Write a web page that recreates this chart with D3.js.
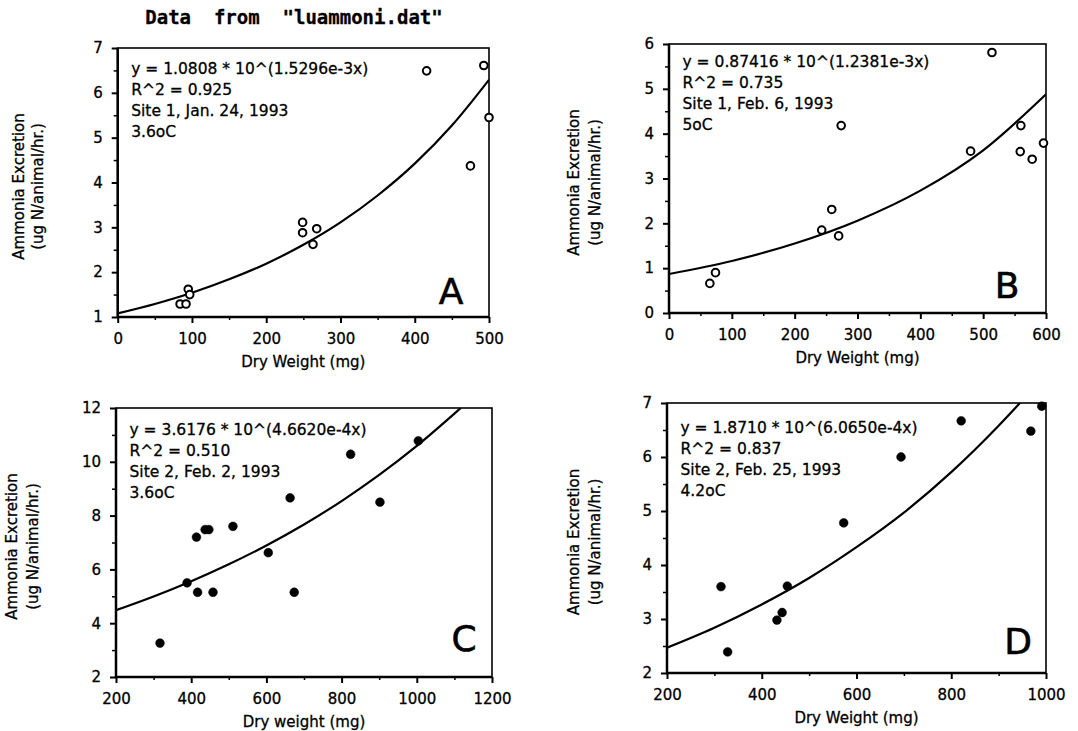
<!DOCTYPE html>
<html>
<head>
<meta charset="utf-8">
<script src="https://cdn.jsdelivr.net/npm/d3@7"></script>
<style>
  body { margin: 0; background: #fff; }
  svg { display: block; }
  text { font-family: "DejaVu Sans", Verdana, sans-serif; fill: #000; stroke: #000; stroke-width: 0.3px; }
</style>
</head>
<body>
<svg width="1078" height="731"></svg>
<script>
// ---- data ----
const weightA = [84, 92, 95, 97, 249, 249, 263, 268, 416, 475, 493, 500];
const excretionA = [1.29, 1.29, 1.62, 1.50, 3.11, 2.88, 2.62, 2.97, 6.49, 4.37, 6.61, 5.45];
const fitXA = [0, 50, 100, 150, 200, 250, 300, 350, 400, 450, 500];
const fitYA = [1.08, 1.29, 1.54, 1.84, 2.19, 2.61, 3.11, 3.71, 4.42, 5.27, 6.29];

const weightB = [65, 74, 243, 259, 270, 274, 480, 514, 559, 560, 578, 596];
const excretionB = [0.66, 0.90, 1.85, 2.31, 1.72, 4.18, 3.61, 5.81, 3.60, 4.18, 3.43, 3.79];
const fitXB = [0, 100, 200, 300, 400, 500, 600];
const fitYB = [0.87, 1.16, 1.55, 2.06, 2.73, 3.63, 4.88];

const weightC = [317, 389, 414, 417, 437, 447, 458, 511, 605, 663, 674, 824, 902, 1004];
const excretionC = [3.26, 5.50, 7.20, 5.15, 7.48, 7.48, 5.15, 7.60, 6.62, 8.66, 5.15, 10.28, 8.50, 10.78];
const fitXC = [200, 300, 400, 500, 600, 700, 800, 900, 1000, 1100, 1117];
const fitYC = [4.48, 4.99, 5.56, 6.19, 6.89, 7.67, 8.54, 9.51, 10.59, 11.79, 12.0];

const weightD = [314, 328, 432, 443, 454, 573, 694, 821, 968, 991];
const excretionD = [3.60, 2.39, 2.98, 3.12, 3.61, 4.78, 6.00, 6.67, 6.48, 6.94];
const fitXD = [200, 300, 400, 500, 600, 700, 800, 900, 945];
const fitYD = [2.47, 2.84, 3.27, 3.76, 4.33, 4.97, 5.72, 6.58, 7.0];

// annotation lines
const notesA = ["y = 1.0808 * 10^(1.5296e-3x)", "R^2 = 0.925", "Site 1, Jan. 24, 1993", "3.6oC"];
const notesB = ["y = 0.87416 * 10^(1.2381e-3x)", "R^2 = 0.735", "Site 1, Feb. 6, 1993", "5oC"];
const notesC = ["y = 3.6176 * 10^(4.6620e-4x)", "R^2 = 0.510", "Site 2, Feb. 2, 1993", "3.6oC"];
const notesD = ["y = 1.8710 * 10^(6.0650e-4x)", "R^2 = 0.837", "Site 2, Feb. 25, 1993", "4.2oC"];

// tick values
const xTicksA = [0, 100, 200, 300, 400, 500], xMinorA = [50, 150, 250, 350, 450];
const yTicksA = [1, 2, 3, 4, 5, 6, 7], yMinorA = [1.5, 2.5, 3.5, 4.5, 5.5, 6.5];
const xTicksB = [0, 100, 200, 300, 400, 500, 600], xMinorB = [50, 150, 250, 350, 450, 550];
const yTicksB = [0, 1, 2, 3, 4, 5, 6], yMinorB = [0.5, 1.5, 2.5, 3.5, 4.5, 5.5];
const xTicksC = [200, 400, 600, 800, 1000, 1200], xMinorC = [300, 500, 700, 900, 1100];
const yTicksC = [2, 4, 6, 8, 10, 12], yMinorC = [3, 5, 7, 9, 11];
const xTicksD = [200, 400, 600, 800, 1000], xMinorD = [300, 500, 700, 900];
const yTicksD = [2, 3, 4, 5, 6, 7], yMinorD = [2.5, 3.5, 4.5, 5.5, 6.5];

const yTitle = ["Ammonia Excretion", "(ug N/animal/hr.)"];

// ---- layout ----
const panels = [
  { letter: "A", xs: weightA, ys: excretionA, fx: fitXA, fy: fitYA, notes: notesA, filled: false,
    xDomain: [0, 500], yDomain: [1, 7], xTicks: xTicksA, xMinor: xMinorA, yTicks: yTicksA, yMinor: yMinorA,
    xTitle: "Dry Weight (mg)", left: 117.7, right: 489, top: 48, bottom: 317,
    yt: [-99, -80], note0: 20, lx: 38, ly: 26 },
  { letter: "B", xs: weightB, ys: excretionB, fx: fitXB, fy: fitYB, notes: notesB, filled: false,
    xDomain: [0, 600], yDomain: [0, 6], xTicks: xTicksB, xMinor: xMinorB, yTicks: yTicksB, yMinor: yMinorB,
    xTitle: "Dry Weight (mg)", left: 669, right: 1046, top: 44, bottom: 313,
    yt: [-95, -74], note0: 17.5, lx: 39, ly: 28.5 },
  { letter: "C", xs: weightC, ys: excretionC, fx: fitXC, fy: fitYC, notes: notesC, filled: true,
    xDomain: [200, 1200], yDomain: [2, 12], xTicks: xTicksC, xMinor: xMinorC, yTicks: yTicksC, yMinor: yMinorC,
    xTitle: "Dry weight (mg)", left: 116, right: 492, top: 408, bottom: 677,
    yt: [-104, -83], note0: 21.5, lx: 28, ly: 39 },
  { letter: "D", xs: weightD, ys: excretionD, fx: fitXD, fy: fitYD, notes: notesD, filled: true,
    xDomain: [200, 1000], yDomain: [2, 7], xTicks: xTicksD, xMinor: xMinorD, yTicks: yTicksD, yMinor: yMinorD,
    xTitle: "Dry Weight (mg)", left: 667, right: 1046, top: 403, bottom: 673,
    yt: [-93, -72], note0: 24.5, lx: 28, ly: 32 }
];

const svg = d3.select("svg");
svg.append("rect").attr("width", 1078).attr("height", 731).attr("fill", "#fff");

svg.append("text")
  .attr("x", 294).attr("y", 24)
  .attr("text-anchor", "middle")
  .style("font-family", "'DejaVu Sans Mono', monospace")
  .style("font-weight", "bold")
  .style("font-size", "19px")
  .style("white-space", "pre")
  .text('Data  from  "luammoni.dat"');

const defs = svg.append("defs");

panels.forEach((p, i) => {
  const x = d3.scaleLinear().domain(p.xDomain).range([p.left, p.right]);
  const y = d3.scaleLinear().domain(p.yDomain).range([p.bottom, p.top]);
  const g = svg.append("g");

  defs.append("clipPath").attr("id", "clip" + i)
    .append("rect")
    .attr("x", p.left).attr("y", p.top)
    .attr("width", p.right - p.left).attr("height", p.bottom - p.top);

  // minor ticks
  g.append("g").attr("transform", `translate(0,${p.bottom})`)
    .call(d3.axisBottom(x).tickValues(p.xMinor).tickSize(3).tickFormat(""))
    .call(a => a.select(".domain").remove())
    .selectAll("line").attr("stroke-width", 1.5);
  g.append("g").attr("transform", `translate(${p.left},0)`)
    .call(d3.axisLeft(y).tickValues(p.yMinor).tickSize(4).tickFormat(""))
    .call(a => a.select(".domain").remove())
    .selectAll("line").attr("stroke-width", 1.5);

  // major ticks + labels
  const xa = g.append("g").attr("transform", `translate(0,${p.bottom})`)
    .call(d3.axisBottom(x).tickValues(p.xTicks).tickSize(6).tickPadding(10).tickFormat(d3.format("d")));
  const ya = g.append("g").attr("transform", `translate(${p.left},0)`)
    .call(d3.axisLeft(y).tickValues(p.yTicks).tickSize(6).tickPadding(9).tickFormat(d3.format("d")));
  [xa, ya].forEach(a => {
    a.select(".domain").remove();
    a.selectAll("line").attr("stroke-width", 2);
    a.selectAll("text").style("font-size", "15px").attr("fill", "#000")
      .style("font-family", "'DejaVu Sans', sans-serif");
  });

  // frame
  g.append("rect")
    .attr("x", p.left).attr("y", p.top)
    .attr("width", p.right - p.left).attr("height", p.bottom - p.top)
    .attr("fill", "none").attr("stroke", "#000").attr("stroke-width", 1.6);
  g.append("path")
    .attr("d", `M${p.left},${p.top}V${p.bottom}H${p.right}`)
    .attr("fill", "none").attr("stroke", "#000").attr("stroke-width", 2.5);

  // fitted curve
  const fit = p.fx.map((v, k) => [v, p.fy[k]]);
  g.append("path")
    .attr("clip-path", `url(#clip${i})`)
    .attr("d", d3.line().x(d => x(d[0])).y(d => y(d[1])).curve(d3.curveMonotoneX)(fit))
    .attr("fill", "none").attr("stroke", "#000").attr("stroke-width", 2.2);

  // points
  const pts = p.xs.map((v, k) => [v, p.ys[k]]);
  g.selectAll("circle.pt").data(pts).enter().append("circle")
    .attr("class", "pt")
    .attr("cx", d => x(d[0])).attr("cy", d => y(d[1]))
    .attr("r", p.filled ? 4.4 : 3.8)
    .attr("fill", p.filled ? "#000" : "#fff")
    .attr("stroke", "#000")
    .attr("stroke-width", p.filled ? 0.5 : 2);

  // notes
  g.selectAll("text.note").data(p.notes).enter().append("text")
    .attr("class", "note")
    .attr("x", p.left + 13.5)
    .attr("y", (d, k) => p.top + p.note0 + 5.5 + k * 21)
    .style("font-size", "15.5px")
    .text(d => d);

  // panel letter
  g.append("text")
    .attr("x", p.right - p.lx).attr("y", p.bottom - p.ly + 13)
    .attr("text-anchor", "middle")
    .style("font-size", "36px")
    .style("stroke-width", "0.6px")
    .text(p.letter);

  // axis titles
  g.append("text")
    .attr("x", (p.left + p.right) / 2).attr("y", p.bottom + 50)
    .attr("text-anchor", "middle")
    .style("font-size", "15px")
    .text(p.xTitle);

  const cy = (p.top + p.bottom) / 2 + 4;
  yTitle.forEach((t, k) => {
    g.append("text")
      .attr("transform", `translate(${p.left + p.yt[k]},${cy}) rotate(-90)`)
      .attr("text-anchor", "middle")
      .attr("dy", "0.35em")
      .style("font-size", "15px")
      .text(t);
  });
});
</script>
</body>
</html>
